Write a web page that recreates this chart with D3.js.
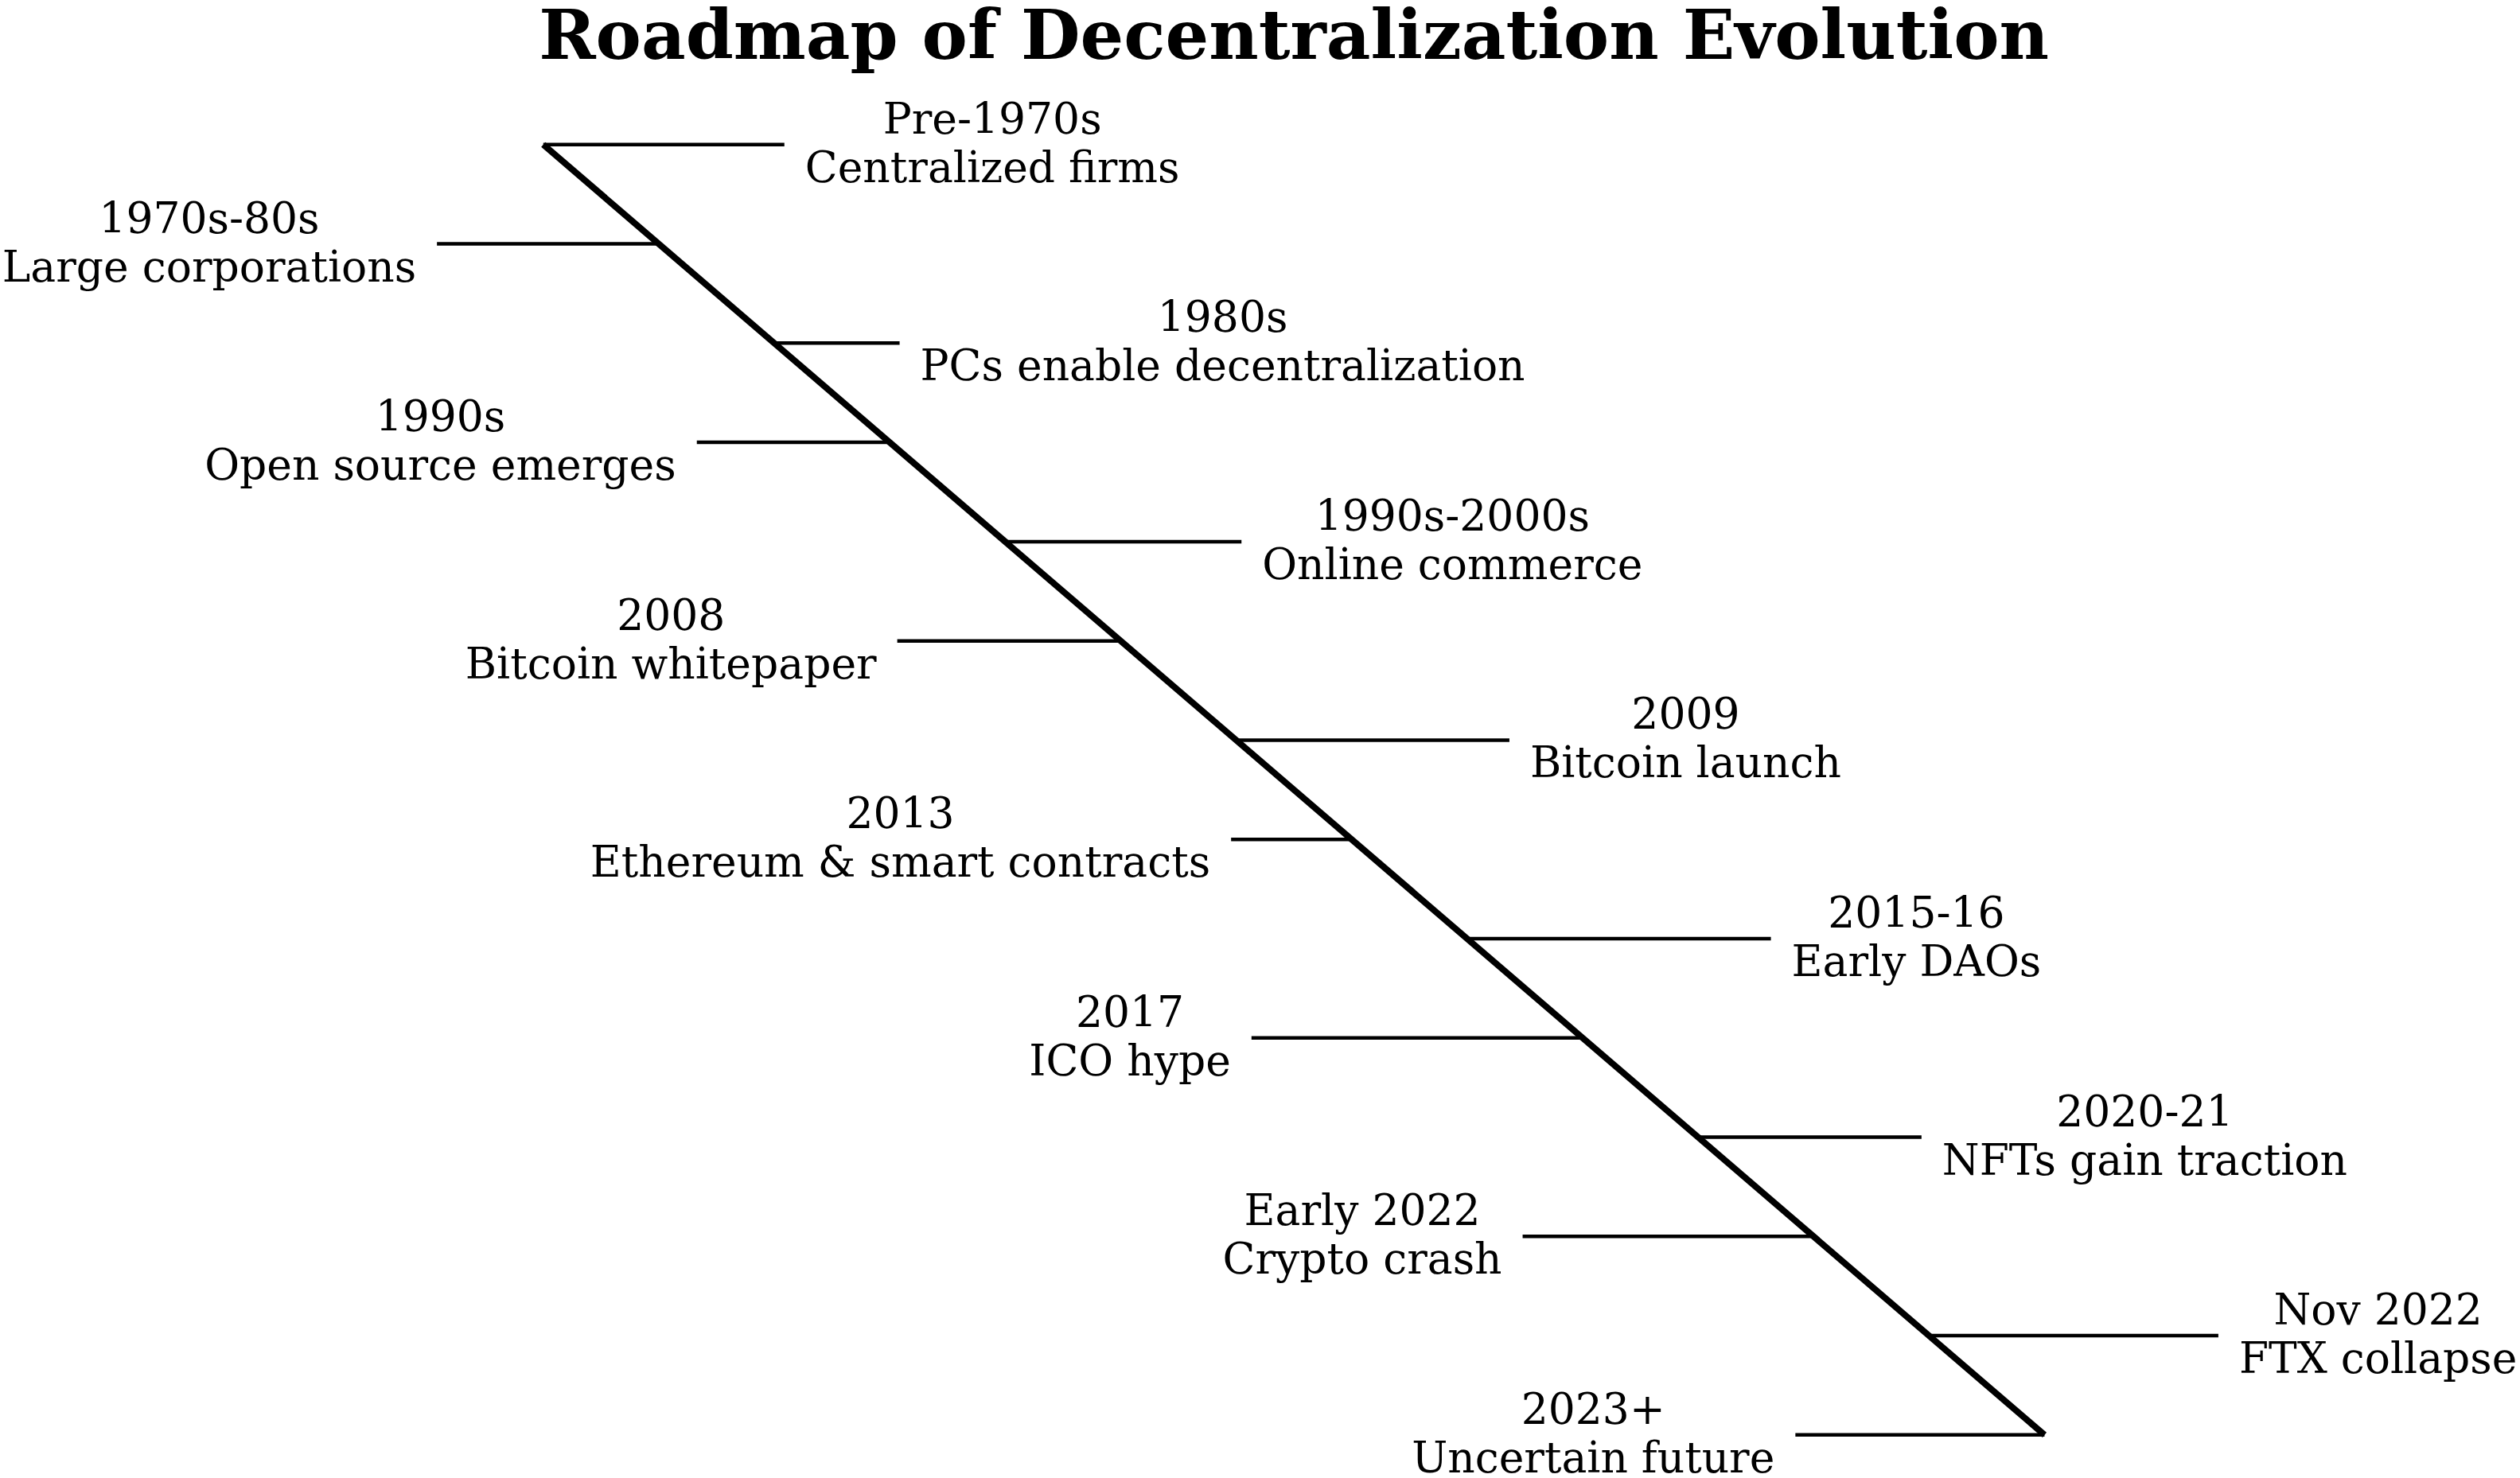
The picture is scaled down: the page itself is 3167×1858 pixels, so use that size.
<!DOCTYPE html>
<html><head><meta charset="utf-8">
<script src="https://cdn.jsdelivr.net/npm/d3@7"></script>
<style>body{margin:0;background:#fff}</style></head>
<body><svg id="chart"></svg>
<script>
const years = ["Pre-1970s","1970s-80s","1980s","1990s","1990s-2000s","2008","2009","2013","2015-16","2017","2020-21","Early 2022","Nov 2022","2023+"];
const events = ["Centralized firms","Large corporations","PCs enable decentralization","Open source emerges","Online commerce","Bitcoin whitepaper","Bitcoin launch","Ethereum & smart contracts","Early DAOs","ICO hype","NFTs gain traction","Crypto crash","FTX collapse","Uncertain future"];
const sides = [1,-1,1,-1,1,-1,1,-1,1,-1,1,-1,1,-1];
// connector length along x, in timeline units
const reach = [150,138,78,120,147,139,170,75,189,206,139,181,180,155];

const W = 3167, H = 1858, k = 2.02;
const svg = d3.select("#chart").attr("width", W).attr("height", H);

const idx = d3.range(years.length);
const y = d3.scaleLinear().domain([0, years.length - 1]).range([90 * k, 893 * k]);
const x = d3.scaleLinear().domain([0, years.length - 1]).range([338 * k, 1272 * k]);
const len = d3.scaleLinear().domain([0, 1]).range([0, k]);

svg.append("text")
  .attr("x", 805 * k).attr("y", 74)
  .attr("text-anchor", "middle")
  .style("font-family", "DejaVu Serif").style("font-weight", "bold").style("font-size", "86px")
  .text("Roadmap of Decentralization Evolution");

svg.append("line")
  .attr("x1", x(0)).attr("y1", y(0))
  .attr("x2", x(years.length - 1)).attr("y2", y(years.length - 1))
  .attr("stroke", "#000").attr("stroke-width", 8);

const g = svg.selectAll("g.ev").data(idx).enter().append("g").attr("class", "ev");

g.append("line")
  .attr("x1", i => x(i))
  .attr("x2", i => x(i) + sides[i] * len(reach[i]))
  .attr("y1", i => y(i)).attr("y2", i => y(i))
  .attr("stroke", "#000").attr("stroke-width", 4.5);

g.each(function(i) {
  const end = x(i) + sides[i] * len(reach[i]);
  const t = d3.select(this).append("text")
    .style("font-family", "DejaVu Serif").style("font-size", "53.5px")
    .attr("text-anchor", "middle");
  const a = t.append("tspan").attr("y", y(i) - 14).text(years[i]);
  const b = t.append("tspan").attr("y", y(i) + 47).text(events[i]);
  const wMax = Math.max(a.node().getComputedTextLength(), b.node().getComputedTextLength());
  const cx = sides[i] > 0 ? end + 26 + wMax / 2 : end - 26 - wMax / 2;
  a.attr("x", cx); b.attr("x", cx);
});
</script></body></html>
